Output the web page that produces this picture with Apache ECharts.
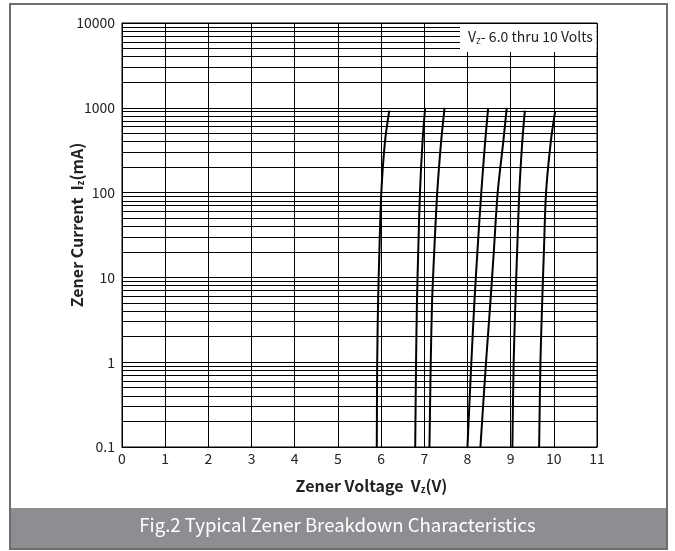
<!DOCTYPE html>
<html>
<head>
<meta charset="utf-8">
<script src="https://cdn.jsdelivr.net/npm/echarts@6/dist/echarts.min.js"></script>
<style>
html,body{margin:0;padding:0;background:#fff;}
#c{width:675px;height:551px;}
</style>
</head>
<body>
<div id="c"></div>
<script>
// Tick labels
const xTicks = [0,1,2,3,4,5,6,7,8,9,10,11];
const yDecades = [0.1, 1, 10, 100, 1000, 10000];
const minorMultipliers = [2,3,4,5,6,7,8,9];

// Curves: [voltage V, current mA]
const curve6V0 = [[5.90,0.1],[5.91,1],[5.93,5],[5.96,20],[6.005,100],[6.09,400],[6.19,925]];
const curve6V8 = [[6.79,0.1],[6.81,1],[6.83,5],[6.86,20],[6.90,100],[6.96,400],[7.02,1000]];
const curve7V2 = [[7.12,0.1],[7.15,1],[7.18,5],[7.23,20],[7.30,100],[7.39,400],[7.47,1000]];
const curve8V2 = [[8.00,0.1],[8.09,1],[8.16,5],[8.23,20],[8.32,100],[8.41,400],[8.48,1000]];
const curve8V5 = [[8.30,0.1],[8.43,1],[8.53,5],[8.61,20],[8.70,100],[8.83,400],[8.91,1000]];
const curve9V1 = [[9.04,0.1],[9.07,1],[9.11,5],[9.15,20],[9.20,100],[9.27,400],[9.33,925]];
const curve9V7 = [[9.66,0.1],[9.69,1],[9.73,5],[9.77,20],[9.82,100],[9.93,400],[10.03,900]];
const curves = [curve6V0, curve6V8, curve7V2, curve8V2, curve8V5, curve9V1, curve9V7];

const FONT = 'Noto Sans CJK SC';

const minorLines = [];
yDecades.slice(0, -1).forEach(d => minorMultipliers.forEach(m => minorLines.push({yAxis: +(d*m).toPrecision(3)})));

const chart = echarts.init(document.getElementById('c'), null, {renderer: 'canvas'});

const series = curves.map(c => ({
  type: 'line',
  data: c,
  symbol: 'none',
  smooth: 0.3,
  lineStyle: {color: '#000', width: 2},
  z: 5
}));
series.push({
  type: 'line',
  data: [],
  silent: true,
  markLine: {
    silent: true,
    symbol: ['none','none'],
    label: {show: false},
    lineStyle: {color: '#000', width: 1, type: 'solid'},
    emphasis: {disabled: true},
    data: minorLines
  },
  z: 1
});

const nameRich = {
  b: {fontSize: 16, fontWeight: 'bold', fontFamily: FONT, color: '#222'},
  s: {fontSize: 9, fontWeight: 'bold', fontFamily: FONT, color: '#222', padding: [7,0,0,0]}
};

chart.setOption({
  animation: false,
  backgroundColor: '#fff',
  grid: {left: 122, right: 78, top: 23, bottom: 104, show: true, borderColor: '#000', borderWidth: 1},
  xAxis: {
    type: 'value', min: 0, max: 11, interval: 1,
    axisLine: {show: true, lineStyle: {color: '#000', width: 1}},
    axisTick: {show: false},
    splitLine: {show: true, lineStyle: {color: '#000', width: 1}},
    axisLabel: {color: '#222', fontSize: 14, fontFamily: FONT, margin: 5,
      formatter: v => xTicks.includes(v) ? String(v) : ''},
    name: '{p|}{b|Zener Voltage  V}{s|z}{b|(V)}',
    nameLocation: 'middle',
    nameGap: 31,
    nameMoveOverlap: false,
    nameTextStyle: {rich: Object.assign({p: {width: 24, height: 1}}, nameRich)}
  },
  yAxis: {
    type: 'log', logBase: 10, min: 0.1, max: 10000,
    axisLine: {show: true, lineStyle: {color: '#000', width: 1}},
    axisTick: {show: false},
    splitLine: {show: true, lineStyle: {color: '#000', width: 1}},
    axisLabel: {color: '#222', fontSize: 14, fontFamily: FONT, margin: 7,
      formatter: v => { const f = yDecades.find(d => Math.abs(d - v) / d < 1e-6); return f !== undefined ? String(f) : ''; }},
    name: '{p|}{b|Zener Current  I}{s|z}{b|(mA)}',
    nameLocation: 'middle',
    nameGap: 37,
    nameRotate: 90,
    nameMoveOverlap: false,
    nameTextStyle: {rich: Object.assign({p: {width: 20, height: 1}}, nameRich)}
  },
  series: series,
  graphic: [
    {type: 'rect', z: 100, shape: {x: 460, y: 24, width: 136.5, height: 28}, style: {fill: '#fff'}},
    {type: 'text', z: 101, left: 468, top: 30,
      style: {
        text: '{m|V}{s|Z}{m|- 6.0 thru 10 Volts}',
        rich: {
          m: {fontSize: 14, fontFamily: FONT, fill: '#222'},
          s: {fontSize: 8, fontFamily: FONT, fill: '#222', padding: [7,0,0,0]}
        }
      }
    },
    {type: 'rect', z: 100, shape: {x: 10, y: 508, width: 657, height: 41}, style: {fill: '#8e8e92'}},
    {type: 'text', z: 101, left: 'center', top: 516,
      style: {text: 'Fig.2 Typical Zener Breakdown Characteristics', fontSize: 18.6, fontFamily: FONT, fill: '#fff'}},
    {type: 'rect', z: 102, shape: {x: 10, y: 4, width: 657, height: 545}, style: {fill: 'none', stroke: '#6e6e6e', lineWidth: 2}}
  ]
});
</script>
</body>
</html>
